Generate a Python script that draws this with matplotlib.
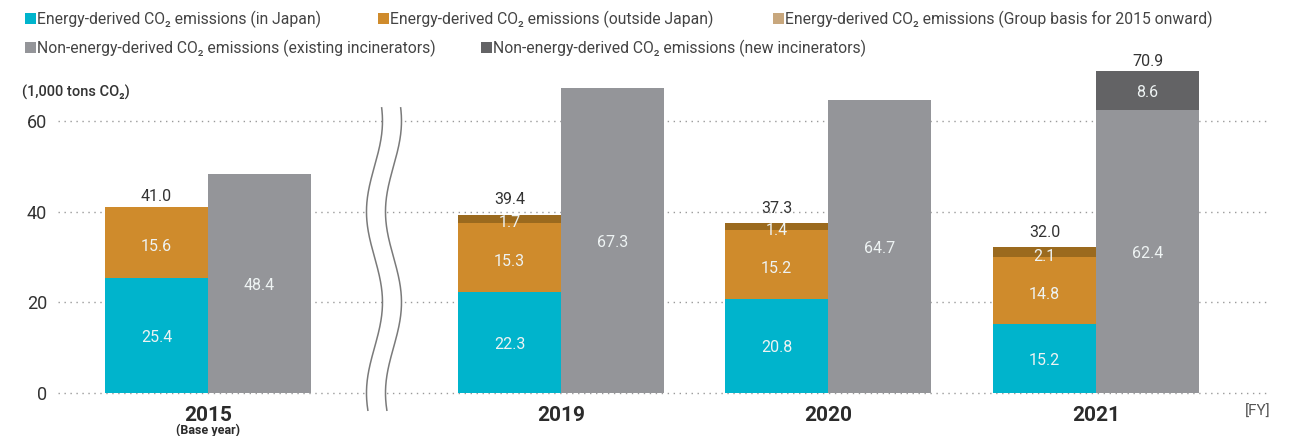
import numpy as np
import matplotlib
matplotlib.use("Agg")
import matplotlib.pyplot as plt
from matplotlib.patches import Rectangle

# ---- data (1,000 tons CO2) ----
years = ["2015", "2019", "2020", "2021"]
energy_japan = [25.4, 22.3, 20.8, 15.2]
energy_overseas = [15.6, 15.3, 15.2, 14.8]
energy_group = [0.0, 1.7, 1.4, 2.1]
energy_total = [41.0, 39.4, 37.3, 32.0]
nonenergy_existing = [48.4, 67.3, 64.7, 62.4]
nonenergy_new = [0.0, 0.0, 0.0, 8.6]
nonenergy_total = [48.4, 67.3, 64.7, 70.9]
yticks = [0, 20, 40, 60]
legend_labels = [
    "Energy-derived CO\u2082 emissions (in Japan)",
    "Energy-derived CO\u2082 emissions (outside Japan)",
    "Energy-derived CO\u2082 emissions (Group basis for 2015 onward)",
    "Non-energy-derived CO\u2082 emissions (existing incinerators)",
    "Non-energy-derived CO\u2082 emissions (new incinerators)",
]

# ---- styling ----
C_JAPAN = "#00b4cc"
C_OVERSEAS = "#cf8b2c"
C_GROUP = "#9b6a1e"
C_GROUP_LEG = "#c8a77d"
C_EXIST = "#949599"
C_NEW = "#636365"
TXT = "#333333"
IN_TXT = "#eef3f3"

plt.rcParams["font.family"] = ["Roboto", "DejaVu Sans"]

W, H = 1297, 436
fig = plt.figure(figsize=(W / 100, H / 100), dpi=100)

def fx(px):
    return px / W

def fy(py):
    return 1 - py / H

# axes geometry in pixels
px_per_unit = 272 / 60.0
y0_px = 393
ylo, yhi = -5, 75
bottom_px = y0_px - ylo * px_per_unit
top_px = y0_px - yhi * px_per_unit
ax = fig.add_axes([fx(58), fy(bottom_px), fx(1268) - fx(58), (bottom_px - top_px) / H])

bar_w = 1.0
group_x = np.array([0.0, 3.427, 6.019, 8.621])
ax.set_xlim(-1.456, 10.291)
ax.set_ylim(ylo, yhi)

# dotted gridlines
for t in yticks:
    ax.plot(ax.get_xlim(), [t, t], color="#9a9a9a", lw=1.0,
            linestyle=(0, (1, 3.3)), zorder=0, solid_capstyle="round")

xe = group_x - bar_w / 2
xn = group_x + bar_w / 2
ej = np.array(energy_japan)
eo = np.array(energy_overseas)
eg = np.array(energy_group)
ne = np.array(nonenergy_existing)
nn = np.array(nonenergy_new)

ax.bar(xe, ej, width=bar_w, color=C_JAPAN, lw=0, zorder=2)
ax.bar(xe, eo, width=bar_w, bottom=ej, color=C_OVERSEAS, lw=0, zorder=2)
ax.bar(xe, eg, width=bar_w, bottom=ej + eo, color=C_GROUP, lw=0, zorder=2)
ax.bar(xn, ne, width=bar_w, color=C_EXIST, lw=0, zorder=2)
ax.bar(xn, nn, width=bar_w, bottom=ne, color=C_NEW, lw=0, zorder=2)

def inlabel(x, y, v, dy=-1.5):
    ax.annotate(f"{v:.1f}", (x, y), xytext=(0, dy), textcoords="offset points",
                ha="center", va="center", color=IN_TXT, fontsize=11.5, zorder=5)

def toplabel(x, y, v, dy):
    ax.annotate(f"{v:.1f}", (x, y), xytext=(0, dy), textcoords="offset points",
                ha="center", va="center", color=TXT, fontsize=11.5, zorder=5)

for i in range(len(years)):
    inlabel(xe[i], ej[i] / 2, ej[i])
    inlabel(xe[i], ej[i] + eo[i] / 2, eo[i], dy=-3)
    if eg[i] > 0:
        inlabel(xe[i], ej[i] + eo[i] + eg[i] / 2, eg[i], dy=-3)
        toplabel(xe[i], energy_total[i], energy_total[i], 11)
    else:
        toplabel(xe[i], energy_total[i], energy_total[i], 7.5)
    inlabel(xn[i], ne[i] / 2, ne[i])
    if nn[i] > 0:
        inlabel(xn[i], ne[i] + nn[i] / 2, nn[i])
        toplabel(xn[i], nonenergy_total[i], nonenergy_total[i], 7.5)

# axis break (two wavy lines, white between them)
brk_c = (374.5 - 208) / 103.0
brk_gap = 19 / 103.0
amp = 8 / 103.0
vv = np.linspace(-3.8, 62.9, 400)
wave = amp * np.cos(2 * np.pi * (vv - 60) / 40)
l1 = brk_c + wave
l2 = brk_c + brk_gap + wave
ax.fill_betweenx(vv, l1, l2, color="white", zorder=1, lw=0)
ax.plot(l1, vv, color="#7a7a7a", lw=1.1, zorder=3, clip_on=False)
ax.plot(l2, vv, color="#7a7a7a", lw=1.1, zorder=3, clip_on=False)

# axes cosmetics
for s in ax.spines.values():
    s.set_visible(False)
ax.set_xticks([])
ax.set_yticks(yticks)
ax.set_yticklabels([str(t) for t in yticks])
ax.tick_params(axis="y", length=0, pad=8, labelsize=13, labelcolor=TXT)

# category labels
for i, y in enumerate(years):
    fig.text(fx(58) + (group_x[i] + 1.456) * 103 / W, fy(415), y,
             ha="center", va="center", fontsize=15, fontweight="bold", color="#2b2b2b")
fig.text(fx(58) + (group_x[0] + 1.456) * 103 / W, fy(430), "(Base year)",
         ha="center", va="center", fontsize=9, fontweight="bold", color="#2b2b2b")
fig.text(fx(1258), fy(412), "[FY]", ha="center", va="center", fontsize=11, color="#555555")
fig.text(fx(22), fy(92), "(1,000 tons CO\u2082)", ha="left", va="center",
         fontsize=10.5, fontweight="medium", color=TXT)

# legend
legend_items = [
    (25, 19, C_JAPAN, legend_labels[0]),
    (378, 19, C_OVERSEAS, legend_labels[1]),
    (773, 19, C_GROUP_LEG, legend_labels[2]),
    (25, 48, C_EXIST, legend_labels[3]),
    (481, 48, C_NEW, legend_labels[4]),
]
for px, py, col, lab in legend_items:
    fig.add_artist(Rectangle((fx(px), fy(py + 5.5)), 11 / W, 11 / H,
                             transform=fig.transFigure, color=col, lw=0))
    fig.text(fx(px + 12), fy(py), lab, ha="left", va="center",
             fontsize=11.3, color="#444444")

fig.savefig("out.png", dpi=100)
